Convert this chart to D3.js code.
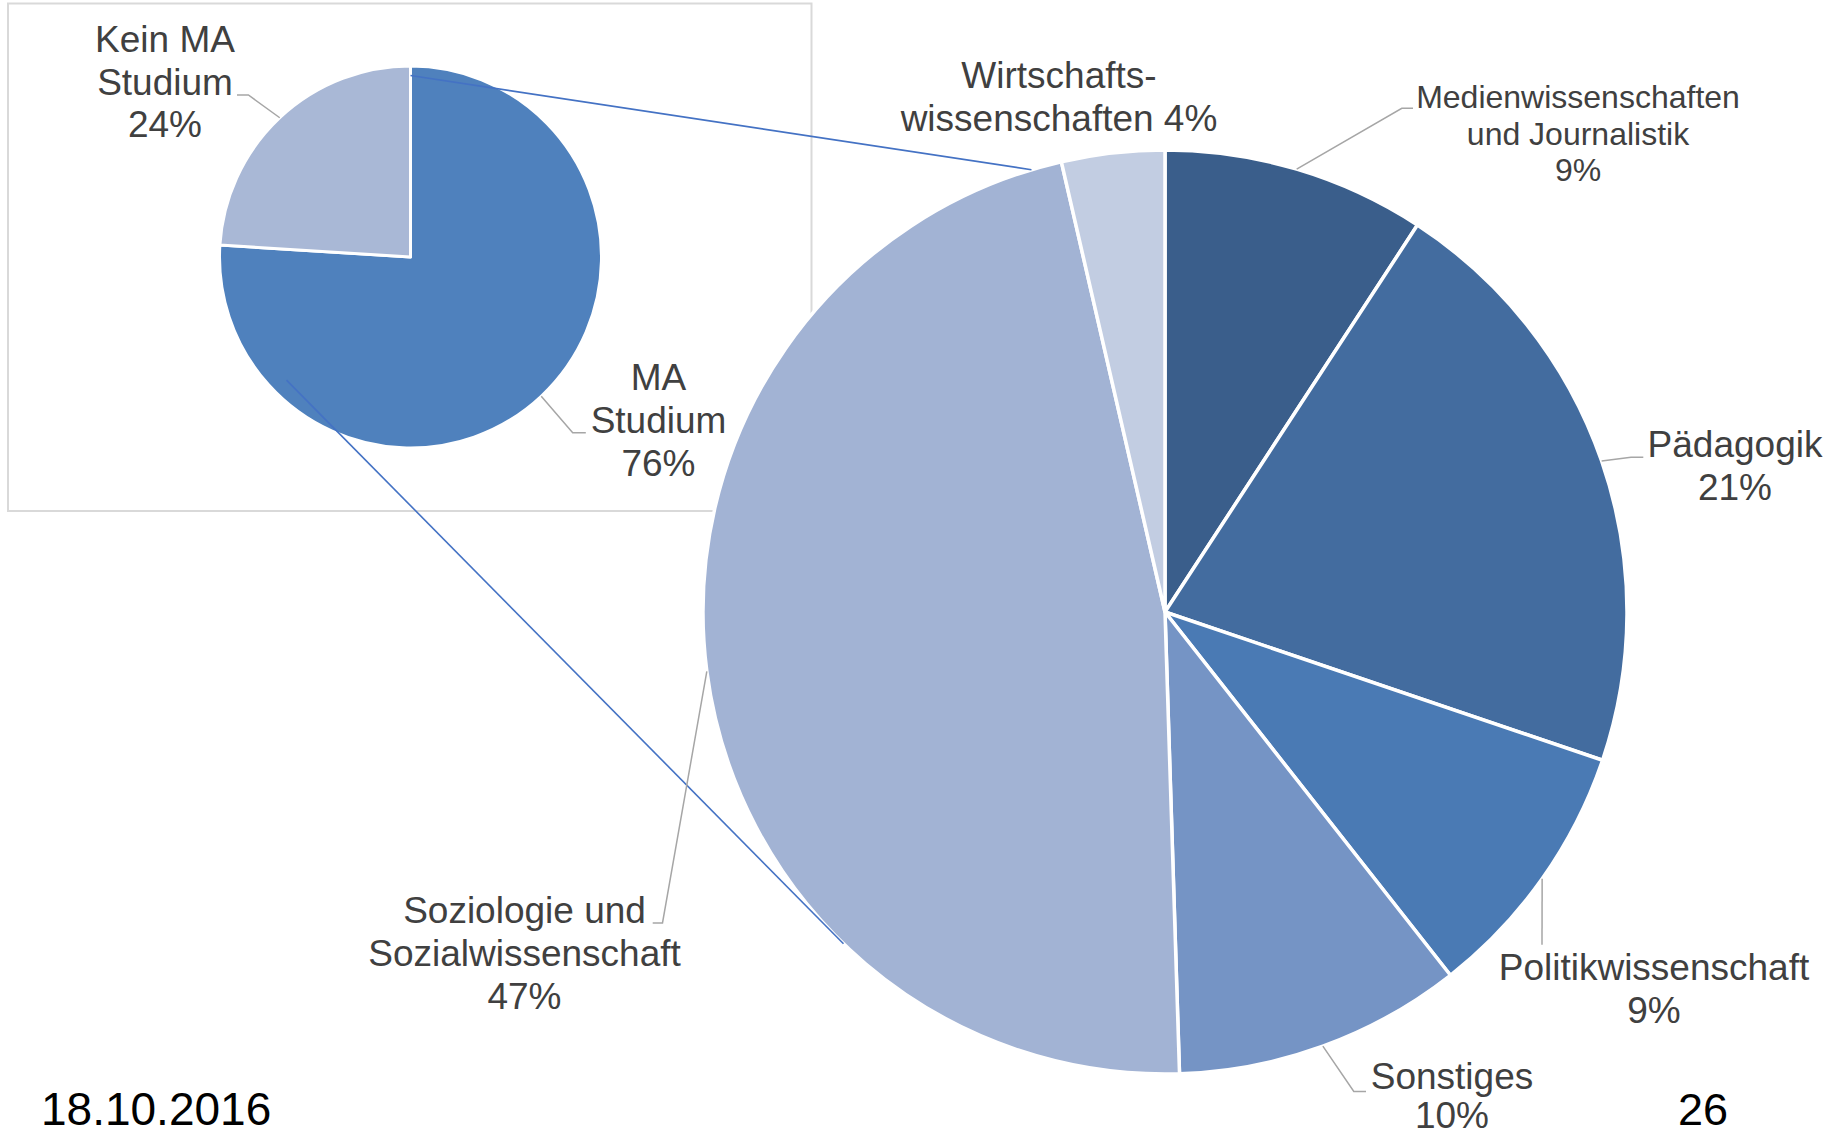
<!DOCTYPE html>
<html>
<head>
<meta charset="utf-8">
<script src="https://cdn.jsdelivr.net/npm/d3@7"></script>
<style>
  html, body { margin: 0; padding: 0; background: #ffffff; }
  svg { display: block; }
  text { font-family: "Liberation Sans", Arial, sans-serif; }
</style>
</head>
<body>
<svg id="chart" width="1831" height="1136"></svg>
<script>
// ---------- DATA ----------
const overviewCategories = ["MA Studium", "Kein MA Studium"];
const overviewValues = [76, 24];
const overviewLabelLines = [["MA", "Studium", "{p}"], ["Kein MA", "Studium", "{p}"]];

const detailCategories = [
  "Medienwissenschaften und Journalistik",
  "Pädagogik",
  "Politikwissenschaft",
  "Sonstiges",
  "Soziologie und Sozialwissenschaft",
  "Wirtschaftswissenschaften"
];
const detailValues = [9.2, 21.0, 9.2, 10.1, 46.9, 3.6];
const detailLabelLines = [
  ["Medienwissenschaften", "und Journalistik", "{p}"],
  ["Pädagogik", "{p}"],
  ["Politikwissenschaft", "{p}"],
  ["Sonstiges", "{p}"],
  ["Soziologie und", "Sozialwissenschaft", "{p}"],
  ["Wirtschafts-", "wissenschaften {p}"]
];
const footerLabels = ["18.10.2016", "26"];

// ---------- STYLE / LAYOUT ----------
const overviewColors = ["#4F81BD", "#A9B8D6"];
const detailColors = ["#3A5E8B", "#436C9F", "#4A7AB4", "#7594C5", "#A2B3D4", "#C2CDE2"];
const textColor = "#404040";
const leaderColor = "#A6A6A6";

const small = { cx: 410.5, cy: 257, r: 191 };
const big = { cx: 1165, cy: 612, r: 462 };

// label layout: center x, first baseline, font size, line spacing, leader elbow points
const overviewLabelLayout = [
  { x: 658.5, y: 389.5, size: 37, lh: 43, leader: [[572.7, 432.7], [585.8, 432.7]] },
  { x: 165, y: 52, size: 37, lh: 42.5, leader: [[248.4, 95], [237, 95]] }
];
const detailLabelLayout = [
  { x: 1578, y: 108.3, size: 32, lh: 36.2, leader: [[1401.8, 108.3], [1413, 108.3]] },
  { x: 1735, y: 456.7, size: 37, lh: 43, leader: [[1631, 457.3], [1643.3, 457.3]] },
  { x: 1654, y: 979.7, size: 37, lh: 43.5, leader: [[1542, 944.7]] },
  { x: 1452, y: 1088.5, size: 37, lh: 39.5, leader: [[1353.8, 1091.4], [1366, 1091.4]] },
  { x: 524.5, y: 923, size: 37, lh: 43, leader: [[662.5, 923], [652.7, 923]] },
  { x: 1059, y: 88.3, size: 37, lh: 42.4, leader: null }
];

const svg = d3.select("#chart");
const deg = Math.PI / 180;

function pt(c, r, a) { // a: radians clockwise from 12 o'clock
  return [c.cx + r * Math.sin(a), c.cy - r * Math.cos(a)];
}

// ---------- BORDER BOX of the overview chart ----------
svg.append("rect")
  .attr("x", 8).attr("y", 3.5)
  .attr("width", 803.5).attr("height", 507.5)
  .attr("fill", "none")
  .attr("stroke", "#D9D9D9")
  .attr("stroke-width", 2);

const pie = d3.pie().sort(null).value(d => d).startAngle(0).endAngle(2 * Math.PI);

// ---------- SMALL PIE ----------
const smallArcs = pie(overviewValues);
const smallArc = d3.arc().innerRadius(0).outerRadius(small.r);
svg.append("g")
  .attr("transform", `translate(${small.cx},${small.cy})`)
  .selectAll("path")
  .data(smallArcs)
  .join("path")
  .attr("d", smallArc)
  .attr("fill", (d, i) => overviewColors[i])
  .attr("stroke", "#ffffff")
  .attr("stroke-width", 3)
  .attr("stroke-linejoin", "round");

// ---------- BIG PIE ----------
const bigArcs = pie(detailValues);
const bigArc = d3.arc().innerRadius(0).outerRadius(big.r);
svg.append("g")
  .attr("transform", `translate(${big.cx},${big.cy})`)
  .selectAll("path")
  .data(bigArcs)
  .join("path")
  .attr("d", bigArc)
  .attr("fill", (d, i) => detailColors[i])
  .attr("stroke", "#ffffff")
  .attr("stroke-width", 3.5)
  .attr("stroke-linejoin", "round");

// ---------- CONNECTOR LINES (pie-of-pie) ----------
const maArc = smallArcs[0];
const connectors = [
  [pt(small, small.r * 0.95, maArc.startAngle), pt(big, big.r, 343.2 * deg)],
  [pt(small, small.r * 0.915, 225.2 * deg), pt(big, big.r, 224.1 * deg)]
];
svg.append("g").selectAll("line")
  .data(connectors)
  .join("line")
  .attr("x1", d => d[0][0]).attr("y1", d => d[0][1])
  .attr("x2", d => d[1][0]).attr("y2", d => d[1][1])
  .attr("stroke", "#4472C4")
  .attr("stroke-width", 1.6);

// ---------- LABELS ----------
function fmtPct(v, total) { return Math.round(v / total * 100) + "%"; }

function drawLabels(arcs, values, lines, layout, circle) {
  const total = d3.sum(values);
  const g = svg.append("g");
  arcs.forEach((a, i) => {
    const L = layout[i];
    if (L.leader) {
      const mid = (a.startAngle + a.endAngle) / 2;
      const pts = [pt(circle, circle.r, mid)].concat(L.leader);
      g.append("path")
        .attr("d", d3.line()(pts))
        .attr("fill", "none")
        .attr("stroke", leaderColor)
        .attr("stroke-width", 1.5);
    }
    const t = g.append("text")
      .attr("text-anchor", "middle")
      .attr("fill", textColor)
      .attr("font-size", L.size);
    lines[i].forEach((ln, j) => {
      t.append("tspan")
        .attr("x", L.x)
        .attr("y", L.y + j * L.lh)
        .text(ln.replace("{p}", fmtPct(values[i], total)));
    });
  });
}
drawLabels(smallArcs, overviewValues, overviewLabelLines, overviewLabelLayout, small);
drawLabels(bigArcs, detailValues, detailLabelLines, detailLabelLayout, big);

// ---------- FOOTER ----------
svg.append("text")
  .attr("x", 41).attr("y", 1125)
  .attr("font-size", 46)
  .attr("fill", "#000000")
  .text(footerLabels[0]);
svg.append("text")
  .attr("x", 1678).attr("y", 1125)
  .attr("font-size", 45)
  .attr("fill", "#000000")
  .text(footerLabels[1]);
</script>
</body>
</html>
